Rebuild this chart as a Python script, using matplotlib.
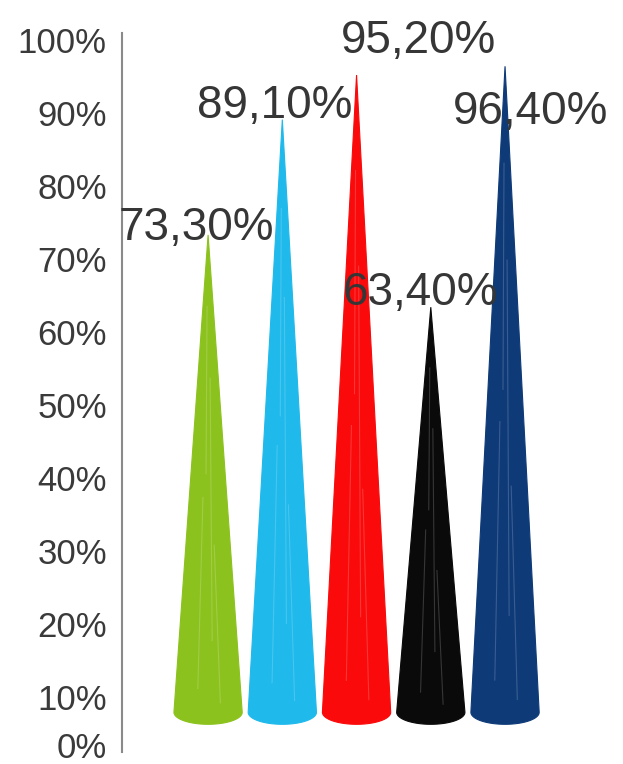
import numpy as np
import matplotlib
matplotlib.use("Agg")
import matplotlib.pyplot as plt
from matplotlib.patches import Polygon

# ---- data ----
categories = ["A", "B", "C", "D", "E"]
values = [73.3, 89.1, 95.2, 63.4, 96.4]
labels = ["73,30%", "89,10%", "95,20%", "63,40%", "96,40%"]
colors = ["#8cc21e", "#1fb9eb", "#fa0a0a", "#0a0a0a", "#0e3a78"]
yticks = [10, 20, 30, 40, 50, 60, 70, 80, 90, 100]
ytick_labels = ["10%", "20%", "30%", "40%", "50%", "60%", "70%", "80%", "90%", "100%"]
zero_label = "0%"

# label offsets (pixels) relative to cone tip
label_offsets = [(-12, 7), (-8, 14), (62, 34), (-10, 14), (26, -46)]

plt.rcParams["font.family"] = ["Liberation Sans", "DejaVu Sans"]

fig = plt.figure(figsize=(6.23, 7.64), dpi=100)
ax = fig.add_axes([0.196, 0.0, 0.804, 1.0])
ax.set_xlim(-1.158, 5.589)
ax.set_ylim(0.822, 105.48)

base = 7.9      # floor level of the cone bases
half_w = 0.46   # half width of the base
ell_h = 1.64    # semi-minor axis of base ellipse

theta = np.linspace(np.pi, 2 * np.pi, 40)
for i, (v, c) in enumerate(zip(values, colors)):
    x = i
    pts = [(x, v), (x - half_w, base)]
    pts += [(x + half_w * np.cos(t), base + ell_h * np.sin(t)) for t in theta]
    pts += [(x + half_w, base)]
    poly = Polygon(pts, closed=True, facecolor=c, edgecolor=c, lw=0.8, zorder=2)
    ax.add_patch(poly)
    # light streak texture
    for fx, y0, y1 in [(-0.25, 0.05, 0.45), (0.1, 0.15, 0.7), (0.3, 0.02, 0.35), (-0.05, 0.5, 0.85)]:
        ln, = ax.plot([x + fx * half_w * 1.2, x + fx * half_w * 0.6],
                      [base + (v - base) * y0, base + (v - base) * y1],
                      color="white", lw=0.8, alpha=0.18, zorder=3)
        ln.set_clip_path(poly)

for i, (v, lab, off) in enumerate(zip(values, labels, label_offsets)):
    ax.annotate(lab, xy=(i, v), xytext=off, textcoords="offset pixels",
                ha="center", va="center", fontsize=33, color="#363636", zorder=5)

ax.set_yticks(yticks)
ax.set_yticklabels(ytick_labels, fontsize=25, color="#3a3a3a")
ax.tick_params(axis="y", length=0, pad=11)
ax.annotate(zero_label, xy=(0, 0), xycoords=("axes fraction", "data"),
            xytext=(-15, 22), textcoords="offset pixels",
            ha="right", va="center", fontsize=25, color="#3a3a3a",
            annotation_clip=False)
ax.set_xticks([])
for s in ["top", "right", "bottom"]:
    ax.spines[s].set_visible(False)
ax.spines["left"].set_color("#8a8a8a")
ax.spines["left"].set_linewidth(1.5)
ax.spines["left"].set_bounds(2.5, 100.9)
ax.patch.set_alpha(0)

fig.savefig("out.png", dpi=100)
